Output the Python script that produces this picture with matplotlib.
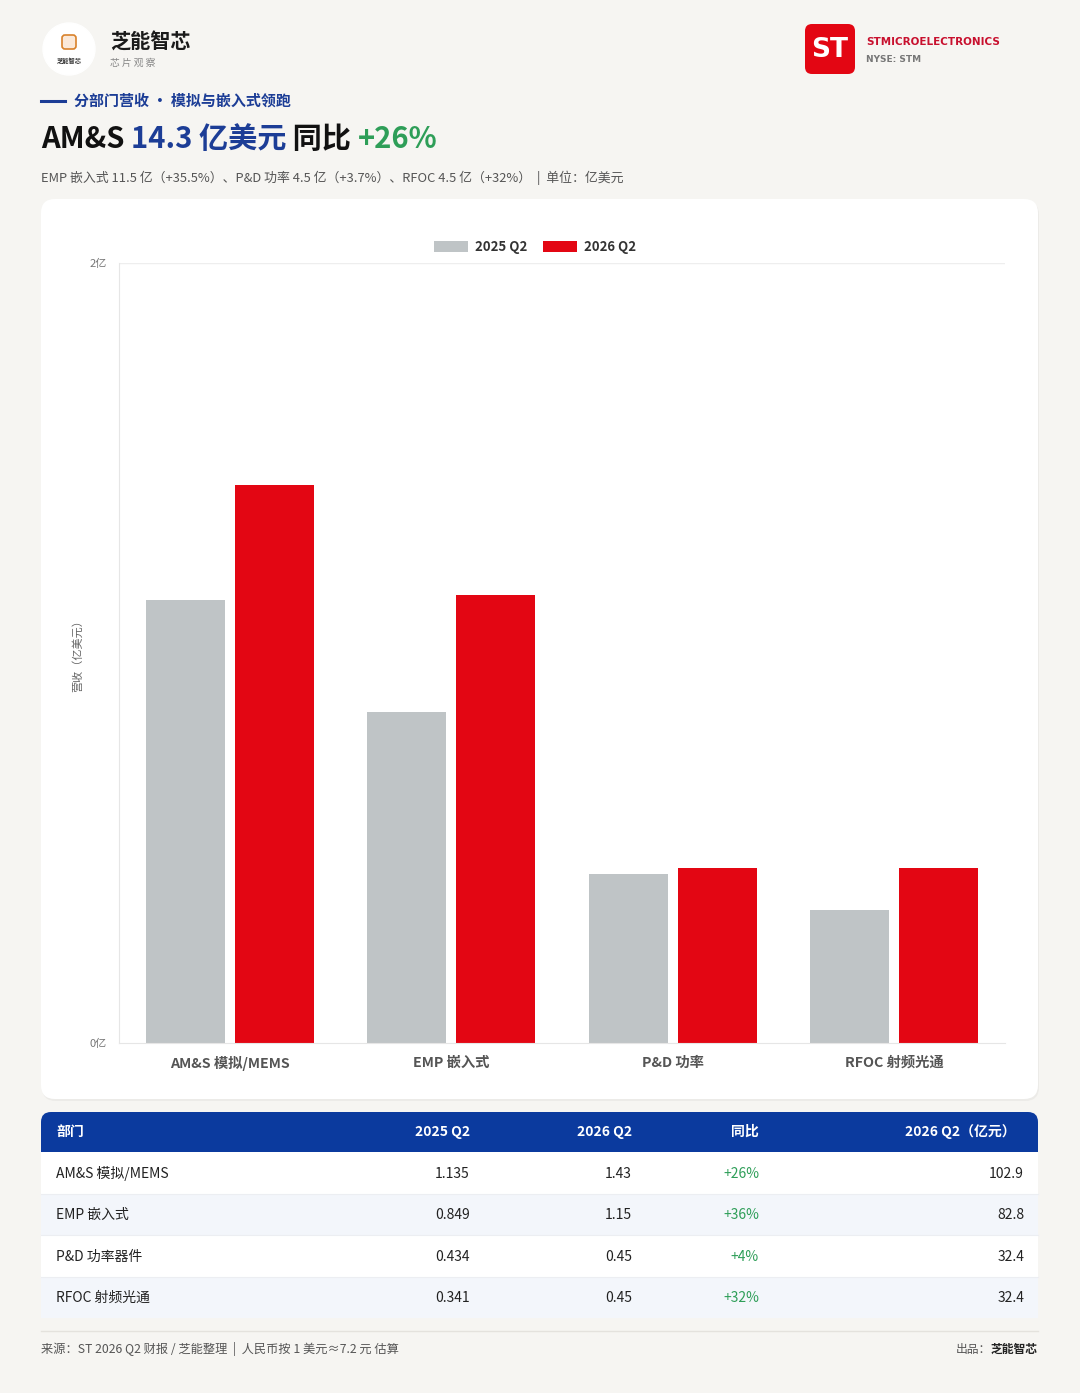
import matplotlib
matplotlib.use("Agg")
import matplotlib.pyplot as plt
from matplotlib.patches import FancyBboxPatch, Rectangle, Circle, Patch
import numpy as np

plt.rcParams['font.family'] = ['Noto Sans CJK SC', 'DejaVu Sans']

# data
categories = ["AM&S 模拟/MEMS", "EMP 嵌入式", "P&D 功率", "RFOC 射频光通"]
rev_2025 = [1.135, 0.849, 0.434, 0.341]
rev_2026 = [1.43, 1.15, 0.45, 0.45]
series_names = ["2025 Q2", "2026 Q2"]
y_ticks = [0, 2]
y_tick_labels = ["0亿", "2亿"]

table_names = ["AM&S 模拟/MEMS", "EMP 嵌入式", "P&D 功率器件", "RFOC 射频光通"]
table_cols = ["部门", "2025 Q2", "2026 Q2", "同比", "2026 Q2（亿元）"]
yoy = ["+26%", "+36%", "+4%", "+32%"]
rmb_2026 = ["102.9", "82.8", "32.4", "32.4"]

BG = "#f6f5f2"
BLUE = "#1c3d96"
HEADER_BLUE = "#0b3a9e"
GREEN = "#2e9e58"
RED = "#e30613"
GRAY_BAR = "#bfc4c6"
W, H = 1080, 1393

fig = plt.figure(figsize=(W / 100, H / 100), dpi=100, facecolor=BG)
bg = fig.add_axes([0, 0, 1, 1])
bg.set_xlim(0, W)
bg.set_ylim(H, 0)
bg.axis("off")
bg.set_facecolor(BG)

renderer = fig.canvas.get_renderer()


def seq_text(x, y, parts, **kw):
    """draw several coloured pieces one after another"""
    for s, color, weight, size in parts:
        t = bg.text(x, y, s, color=color, fontweight=weight, fontsize=size, va="center", ha="left", **kw)
        bb = t.get_window_extent(renderer=renderer)
        inv = bg.transData.inverted()
        x = inv.transform((bb.x1, bb.y0))[0]
    return x


# header left logo
bg.add_patch(Circle((69, 49), 26, color="white", zorder=2))
bg.add_patch(FancyBboxPatch((62, 35), 14, 14, boxstyle="round,pad=0,rounding_size=3",
                            fc="#fbe9d9", ec="#d9822b", lw=1.2, zorder=3))
bg.text(69, 60, "芝能智芯", fontsize=4.5, ha="center", va="center", color="#333", fontweight="bold", zorder=3)
bg.text(110, 42, "芝能智芯", fontsize=14.5, fontweight="bold", color="#1a1a1a", va="center")
bg.text(110, 63, "芯 片 观 察", fontsize=7, color="#888", va="center")

# ST logo
bg.add_patch(FancyBboxPatch((805, 24), 50, 50, boxstyle="round,pad=0,rounding_size=7",
                            fc=RED, ec="none", zorder=2))
bg.text(830, 50, "ST", fontsize=19, fontweight="bold", color="white", ha="center", va="center",
        family="DejaVu Sans", zorder=3)
bg.text(866, 42, "STMICROELECTRONICS", fontsize=7.5, fontweight="bold", color="#c8102e", va="center",
        family="DejaVu Sans")
bg.text(866, 60, "NYSE: STM", fontsize=6.5, fontweight="bold", color="#777", va="center",
        family="DejaVu Sans")

# section label and title
bg.plot([41, 65], [101, 101], color=BLUE, lw=2.2)
bg.text(74, 101, "分部门营收 · 模拟与嵌入式领跑", fontsize=10.8, fontweight="bold", color=BLUE, va="center")
seq_text(41, 139, [("AM&S ", "#111", "bold", 21),
                   ("14.3 亿美元", BLUE, "bold", 21),
                   (" 同比 ", "#111", "bold", 21),
                   ("+26%", GREEN, "bold", 21)])
bg.text(41, 178, "EMP 嵌入式 11.5 亿（+35.5%）、P&D 功率 4.5 亿（+3.7%）、RFOC 4.5 亿（+32%）  |  单位：亿美元",
        fontsize=9.3, color="#555", va="center")

# chart card
bg.add_patch(FancyBboxPatch((42, 201), 997, 900, boxstyle="round,pad=0,rounding_size=14",
                            fc="#ecebe8", ec="none", zorder=1))
bg.add_patch(FancyBboxPatch((41, 199), 997, 900, boxstyle="round,pad=0,rounding_size=14",
                            fc="white", ec="none", zorder=1))

ax = fig.add_axes([119 / W, 1 - 1043 / H, 886 / W, 780 / H])
ax.set_zorder(3)
ax.patch.set_alpha(0)
x = np.arange(len(categories))
bw = 0.357
ax.bar(x - 0.2, rev_2025, bw, color=GRAY_BAR, label=series_names[0], zorder=2)
ax.bar(x + 0.2, rev_2026, bw, color=RED, label=series_names[1], zorder=2)
ax.set_xlim(-0.5, 3.5)
ax.set_ylim(0, 2)
ax.set_yticks(y_ticks)
ax.set_yticklabels(y_tick_labels, fontsize=8, color="#777")
ax.set_xticks(x)
ax.set_xticklabels(categories, fontsize=10.3, fontweight="bold", color="#555")
ax.tick_params(axis="both", length=0)
ax.tick_params(axis="y", pad=9)
ax.tick_params(axis="x", pad=9)
ax.axhline(2, color="#eeeeee", lw=1, zorder=1)
for s in ["top", "right"]:
    ax.spines[s].set_visible(False)
ax.spines["left"].set_color("#e6e6e6")
ax.spines["bottom"].set_color("#e6e6e6")
ax.set_ylabel("营收（亿美元）", fontsize=8, color="#666", labelpad=4)

handles = [Patch(fc=GRAY_BAR), Patch(fc=RED)]
leg = fig.legend(handles, series_names, loc="center", bbox_to_anchor=(535 / W, 1 - 247 / H), ncol=2,
                 frameon=False, handlelength=2.6, handleheight=0.9, columnspacing=1.2, handletextpad=0.5,
                 prop={"size": 9.5, "weight": "bold"})
for t in leg.get_texts():
    t.set_color("#333")

# table
bg.add_patch(FancyBboxPatch((41, 1112), 997, 206, boxstyle="round,pad=0,rounding_size=10",
                            fc="white", ec="none", zorder=1))
bg.add_patch(FancyBboxPatch((41, 1112), 997, 40, boxstyle="round,pad=0,rounding_size=10",
                            fc=HEADER_BLUE, ec="none", zorder=2))
bg.add_patch(Rectangle((41, 1135), 997, 17, fc=HEADER_BLUE, ec="none", zorder=2))
col_x = [56, 470, 632, 759, 1016]
col_ha = ["left", "right", "right", "right", "right"]
for cx, ha, name in zip(col_x, col_ha, table_cols):
    bg.text(cx, 1132, name, fontsize=10, fontweight="bold", color="white", ha=ha, va="center", zorder=3)

row_h = 41.5
for i in range(len(table_names)):
    top = 1152 + i * row_h
    if i % 2 == 1:
        bg.add_patch(Rectangle((41, top), 997, row_h, fc="#f3f6fb", ec="none", zorder=2))
    if i > 0:
        bg.plot([41, 1038], [top, top], color="#eceef2", lw=0.8, zorder=2)
    cy = top + row_h / 2 + 1
    bg.text(56, cy, table_names[i], fontsize=10, color="#222", va="center", zorder=3)
    bg.text(470, cy, f"{rev_2025[i]:g}", fontsize=10, color="#222", ha="right", va="center", zorder=3)
    bg.text(632, cy, f"{rev_2026[i]:g}", fontsize=10, color="#222", ha="right", va="center", zorder=3)
    bg.text(759, cy, yoy[i], fontsize=10, color=GREEN, ha="right", va="center", zorder=3)
    bg.text(1024, cy, rmb_2026[i], fontsize=10, color="#222", ha="right", va="center", zorder=3)

# footer
bg.plot([41, 1038], [1331, 1331], color="#e4e2dd", lw=1)
bg.text(41, 1349, "来源：ST 2026 Q2 财报 / 芝能整理  |  人民币按 1 美元≈7.2 元 估算", fontsize=8.8, color="#555",
        va="center")
t = bg.text(1038, 1349, "芝能智芯", fontsize=8.5, color="#222", fontweight="bold", ha="right", va="center")
bb = t.get_window_extent(renderer=renderer)
xl = bg.transData.inverted().transform((bb.x0, bb.y0))[0]
bg.text(xl, 1349, "出品：", fontsize=8.5, color="#555", ha="right", va="center")

fig.savefig("out.png", dpi=100, facecolor=BG)
